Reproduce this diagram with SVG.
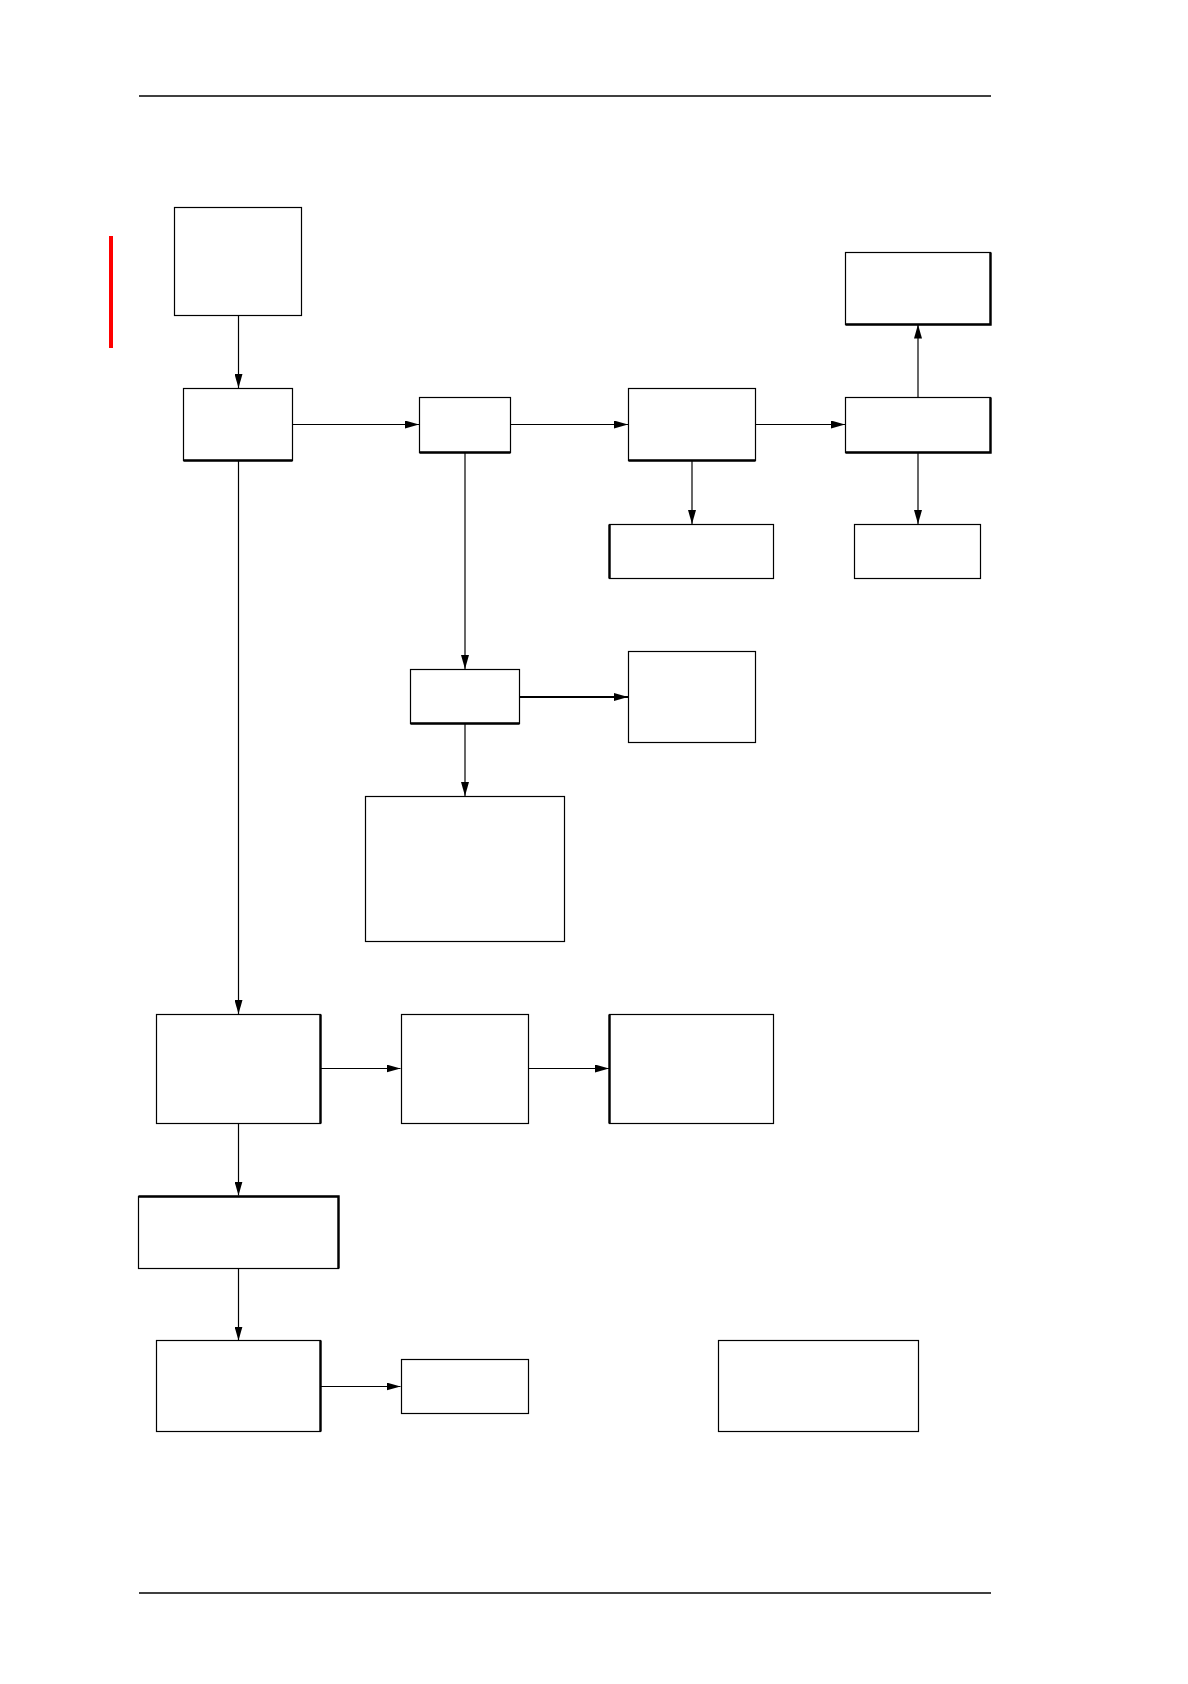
<svg xmlns="http://www.w3.org/2000/svg" width="1188" height="1684" viewBox="0 0 1188 1684">
<style>
.box{fill:#fff;stroke:#000;stroke-width:1.2}
.thick{stroke:#000;stroke-width:2.4;fill:none}
.rule{stroke:#000;stroke-width:1.4}
.conn{stroke:#000;stroke-width:1.2;fill:none;marker-end:url(#ah)}
</style>
<defs>
<marker id="ah" markerUnits="userSpaceOnUse" markerWidth="14" markerHeight="8" refX="14" refY="4" orient="auto">
<path d="M0,0 L14,4 L0,8 z" fill="#000"/>
</marker>
</defs>
<rect width="1188" height="1684" fill="#fff"/>
<line class="rule" x1="139" y1="96" x2="991" y2="96"/>
<line class="rule" x1="139" y1="1593" x2="991" y2="1593"/>
<rect x="109" y="236" width="4" height="112" fill="#ff0000"/>

<g id="connectors">
<line class="conn" x1="238.5" y1="315" x2="238.5" y2="388"/>
<line class="conn" x1="293" y1="424.5" x2="419" y2="424.5"/>
<line class="conn" x1="510" y1="424.5" x2="628" y2="424.5"/>
<line class="conn" x1="755" y1="424.5" x2="845" y2="424.5"/>
<line class="conn" x1="918" y1="397" x2="918" y2="324.5"/>
<line class="conn" x1="918" y1="452" x2="918" y2="524"/>
<line class="conn" x1="692" y1="461" x2="692" y2="524"/>
<line class="conn" x1="465" y1="452" x2="465" y2="669"/>
<line class="conn" x1="519" y1="697" x2="628" y2="697" style="stroke-width:2.2"/>
<line class="conn" x1="465" y1="724" x2="465" y2="796"/>
<line class="conn" x1="238.5" y1="461" x2="238.5" y2="1014"/>
<line class="conn" x1="320" y1="1068.5" x2="400.5" y2="1068.5"/>
<line class="conn" x1="528.5" y1="1068.5" x2="609" y2="1068.5"/>
<line class="conn" x1="238.5" y1="1123.5" x2="238.5" y2="1195.5"/>
<line class="conn" x1="238.5" y1="1268.5" x2="238.5" y2="1340.5"/>
<line class="conn" x1="320" y1="1386.5" x2="400.5" y2="1386.5"/>
</g>

<g id="nodeA"><rect class="box" x="174.5" y="207.5" width="127" height="108"/></g>
<g id="nodeB"><rect class="box" x="183.5" y="388.5" width="109" height="72"/><line class="thick" x1="183.5" y1="460.5" x2="292.5" y2="460.5"/></g>
<g id="nodeC"><rect class="box" x="419.5" y="397.5" width="91" height="55"/><line class="thick" x1="419.5" y1="452.5" x2="510.5" y2="452.5"/></g>
<g id="nodeD"><rect class="box" x="628.5" y="388.5" width="127" height="72"/><line class="thick" x1="628.5" y1="460.5" x2="755.5" y2="460.5"/></g>
<g id="nodeE"><rect class="box" x="845.5" y="252.5" width="145" height="72"/><polyline class="thick" points="845.5,324.5 990.5,324.5 990.5,252.5"/></g>
<g id="nodeF"><rect class="box" x="845.5" y="397.5" width="145" height="55"/><polyline class="thick" points="845.5,452.5 990.5,452.5 990.5,397.5"/></g>
<g id="nodeG"><rect class="box" x="609.5" y="524.5" width="164" height="54"/><line class="thick" x1="609.5" y1="524.5" x2="609.5" y2="578.5"/></g>
<g id="nodeH"><rect class="box" x="854.5" y="524.5" width="126" height="54"/></g>
<g id="nodeI"><rect class="box" x="410.5" y="669.5" width="109" height="54"/><line class="thick" x1="410.5" y1="723.5" x2="519.5" y2="723.5"/></g>
<g id="nodeJ"><rect class="box" x="628.5" y="651.5" width="127" height="91"/></g>
<g id="nodeK"><rect class="box" x="365.5" y="796.5" width="199" height="145"/></g>
<g id="nodeL"><rect class="box" x="156.5" y="1014.5" width="164" height="109"/><line class="thick" x1="320.5" y1="1014.5" x2="320.5" y2="1123.5"/></g>
<g id="nodeM"><rect class="box" x="401.5" y="1014.5" width="127" height="109"/></g>
<g id="nodeN"><rect class="box" x="609.5" y="1014.5" width="164" height="109"/><line class="thick" x1="609.5" y1="1014.5" x2="609.5" y2="1123.5"/></g>
<g id="nodeO"><rect class="box" x="138.5" y="1196.5" width="200" height="72"/><polyline class="thick" points="138.5,1196.5 338.5,1196.5 338.5,1268.5"/></g>
<g id="nodeP"><rect class="box" x="156.5" y="1340.5" width="164" height="91"/><line class="thick" x1="320.5" y1="1340.5" x2="320.5" y2="1431.5"/></g>
<g id="nodeQ"><rect class="box" x="401.5" y="1359.5" width="127" height="54"/></g>
<g id="nodeR"><rect class="box" x="718.5" y="1340.5" width="200" height="91"/></g>
</svg>
